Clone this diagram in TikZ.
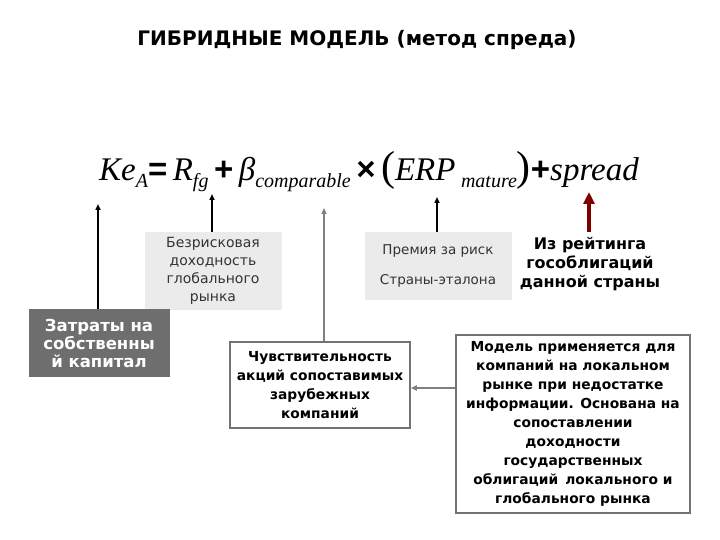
\documentclass[tikz,border=0pt]{standalone}
\usepackage{fontspec}
\setmainfont{DejaVu Sans}
\newfontfamily\tms{Liberation Serif}
\newfontfamily\ars{Liberation Sans}
\usetikzlibrary{arrows.meta}
\begin{document}
\begin{tikzpicture}[x=1pt,y=-1pt,
  greybox/.style={fill=black!8,align=center,text=black!80,font=\fontsize{14}{18}\selectfont},
  outbox/.style={draw=black!55,line width=1.5pt,fill=white,align=center,font=\bfseries\fontsize{13.8}{19}\selectfont},
  arr/.style={-{Triangle[length=6pt,width=5pt]},line width=1.5pt}]
\useasboundingbox (0,0) rectangle (720,540);
\node[font=\bfseries\fontsize{20}{24}\selectfont] (title) at (357,40) {ГИБРИДНЫЕ МОДЕЛЬ (метод спреда)};
\newcommand\sbs[1]{\raisebox{-7pt}{\fontsize{20}{20}\selectfont #1}}
\newcommand\op[1]{{\upshape\ars\bfseries #1}}
\node[font=\tms\itshape\fontsize{33}{38}\selectfont,inner sep=0] (f) at (369,172)
 {Ke\sbs{A}\op{=}\,R\sbs{fg}\,\op{+}\,β\sbs{comparable}\,\op{×}\,{\upshape\fontsize{42}{42}\selectfont(}ERP\,\sbs{mature}{\upshape\fontsize{42}{42}\selectfont)}\op{+}spread};
\node[greybox,minimum width=137,minimum height=78] (rf) at (213,271) {Безрисковая\\доходность\\глобального\\рынка};
\node[greybox,minimum width=147,minimum height=68,font=\fontsize{13.5}{30}\selectfont] (erp) at (438,266) {Премия за риск\\Страны-эталона};
\node[align=center,font=\bfseries\fontsize{16}{19}\selectfont] (sp) at (590,264) {Из рейтинга\\гособлигаций\\данной страны};
\node[fill=black!57,text=white,align=center,minimum width=141,minimum height=68,font=\bfseries\fontsize{16.5}{18}\selectfont,inner sep=1] (ke) at (99,343) {Затраты на\\собственны\\й капитал};
\node[outbox,minimum width=180,minimum height=86,inner sep=2] (beta) at (320,385) {Чувствительность\\акций сопоставимых\\зарубежных\\компаний};
\node[outbox,minimum width=234,minimum height=178,inner sep=2] (model) at (573,424) {Модель применяется для\\компаний на локальном\\рынке при недостатке\\информации. Основана на\\сопоставлении\\доходности\\государственных\\облигаций\, локального и\\глобального рынка};
\coordinate (t1) at (98,204); \coordinate (t2) at (212,194);
\coordinate (t3) at (324,208); \coordinate (t4) at (437,197); \coordinate (t5) at (589,192);
\draw[arr] (ke.north -| t1) -- (t1);
\draw[arr] (rf.north -| t2) -- (t2);
\draw[arr,draw=black!50,fill=black!50] (beta.north -| t3) -- (t3);
\draw[arr] (erp.north -| t4) -- (t4);
\draw[-{Triangle[length=12pt,width=11pt]},line width=4pt,draw=red!50!black] (589,232) -- (t5);
\draw[arr,draw=black!50] (model.west |- 0,388) -- (beta.east |- 0,388);
\end{tikzpicture}
\end{document}
